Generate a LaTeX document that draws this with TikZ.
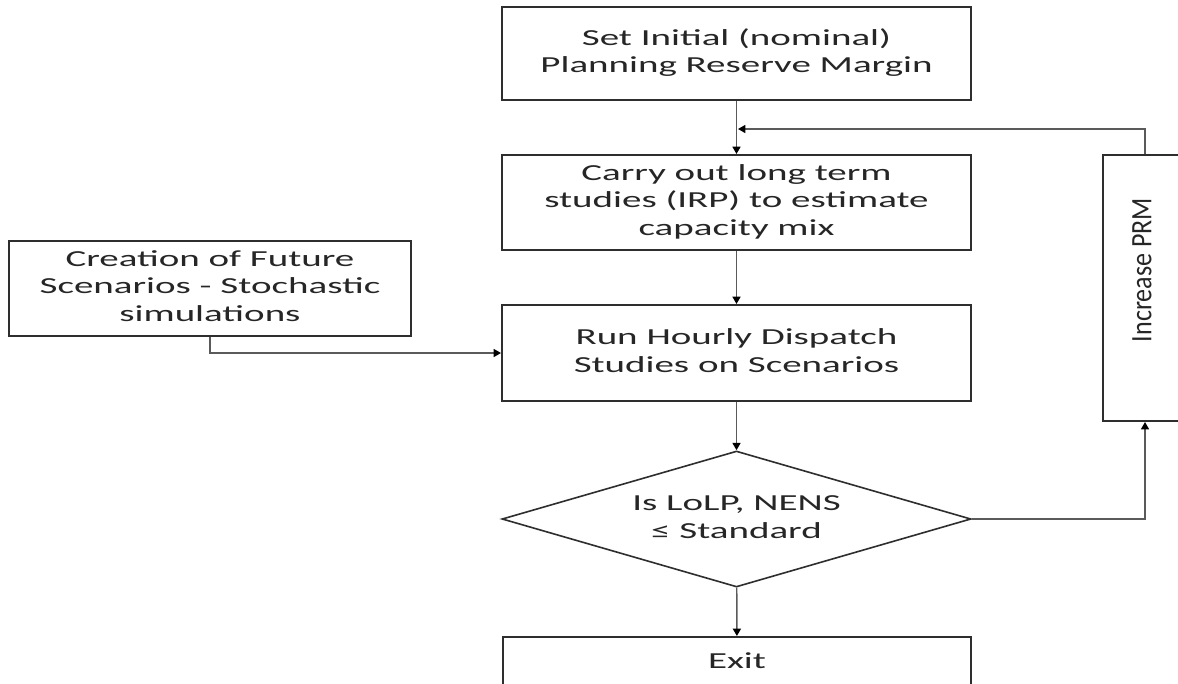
\documentclass[tikz,border=0pt]{standalone}
\usepackage{fontspec}
\setmainfont{Carlito}
\usetikzlibrary{arrows.meta,shapes.geometric,calc}
\definecolor{boxc}{HTML}{2E2E2E}
\definecolor{linec}{HTML}{5A5A5A}
\definecolor{txt}{HTML}{262626}
\newcommand{\widetext}[1]{\scalebox{1.70}[1]{\begin{tabular}{@{}c@{}}#1\end{tabular}}}
\begin{document}
\begin{tikzpicture}[x=0.75pt,y=-0.75pt,
  box/.style={draw=boxc, line width=1.5pt, rectangle, inner sep=0pt, text=txt,
    font=\fontsize{17.2}{20.4}\selectfont},
  dbox/.style={draw=boxc, line width=1.2pt, diamond, aspect=3.45, inner sep=0pt, text=txt,
    font=\fontsize{17.2}{20.4}\selectfont},
  conn/.style={draw=linec, line width=1.1pt, -{Triangle[length=5.5pt,width=6pt,color=black]}},
]
\useasboundingbox (0,0) rectangle (1178,683);
\fill[white] (0,0) rectangle (1178,683);

\node[box, minimum width=351.75pt, minimum height=69.75pt] (b1) at (736.5,53.5)
  {\widetext{Set Initial (nominal)\\Planning Reserve Margin}};
\node[box, minimum width=351.75pt, minimum height=71.25pt] (b2) at (736.5,202.5)
  {\widetext{Carry out long term\\studies (IRP) to estimate\\capacity mix}};
\node[box, minimum width=351.75pt, minimum height=72pt] (b3) at (736.5,353)
  {\widetext{Run Hourly Dispatch\\Studies on Scenarios}};
\node[box, minimum width=301.5pt, minimum height=71.25pt] (left) at (210,288.5)
  {\widetext{Creation of Future\\Scenarios - Stochastic\\simulations}};
\node[dbox, minimum width=351.75pt, minimum height=102pt] (dia) at (736.5,519)
  {\widetext{Is LoLP, NENS\\≤ Standard}};
\node[box, minimum width=351pt, minimum height=39.75pt] (exit) at (737,663.5)
  {\widetext{Exit}};
\node[box, minimum width=63pt, minimum height=199.5pt] (prm) at (1145,288) {};
\node[text=txt, rotate=90, inner sep=0pt, font=\fontsize{19.5}{23}\selectfont] (prmtext) at (1142,270)
  {\scalebox{1}[1.14]{Increase PRM}};

\coordinate (fb) at (738,129);

\draw[conn] (b1) -- (b2);
\draw[conn] (prm.north) |- (fb);
\draw[conn] (b2) -- (b3);
\draw[conn] (left.south) |- (b3.west);
\draw[conn] (b3) -- (dia);
\draw[conn] (dia.east) -| (prm.south);
\draw[conn] (dia) -- (exit);
\end{tikzpicture}
\end{document}
